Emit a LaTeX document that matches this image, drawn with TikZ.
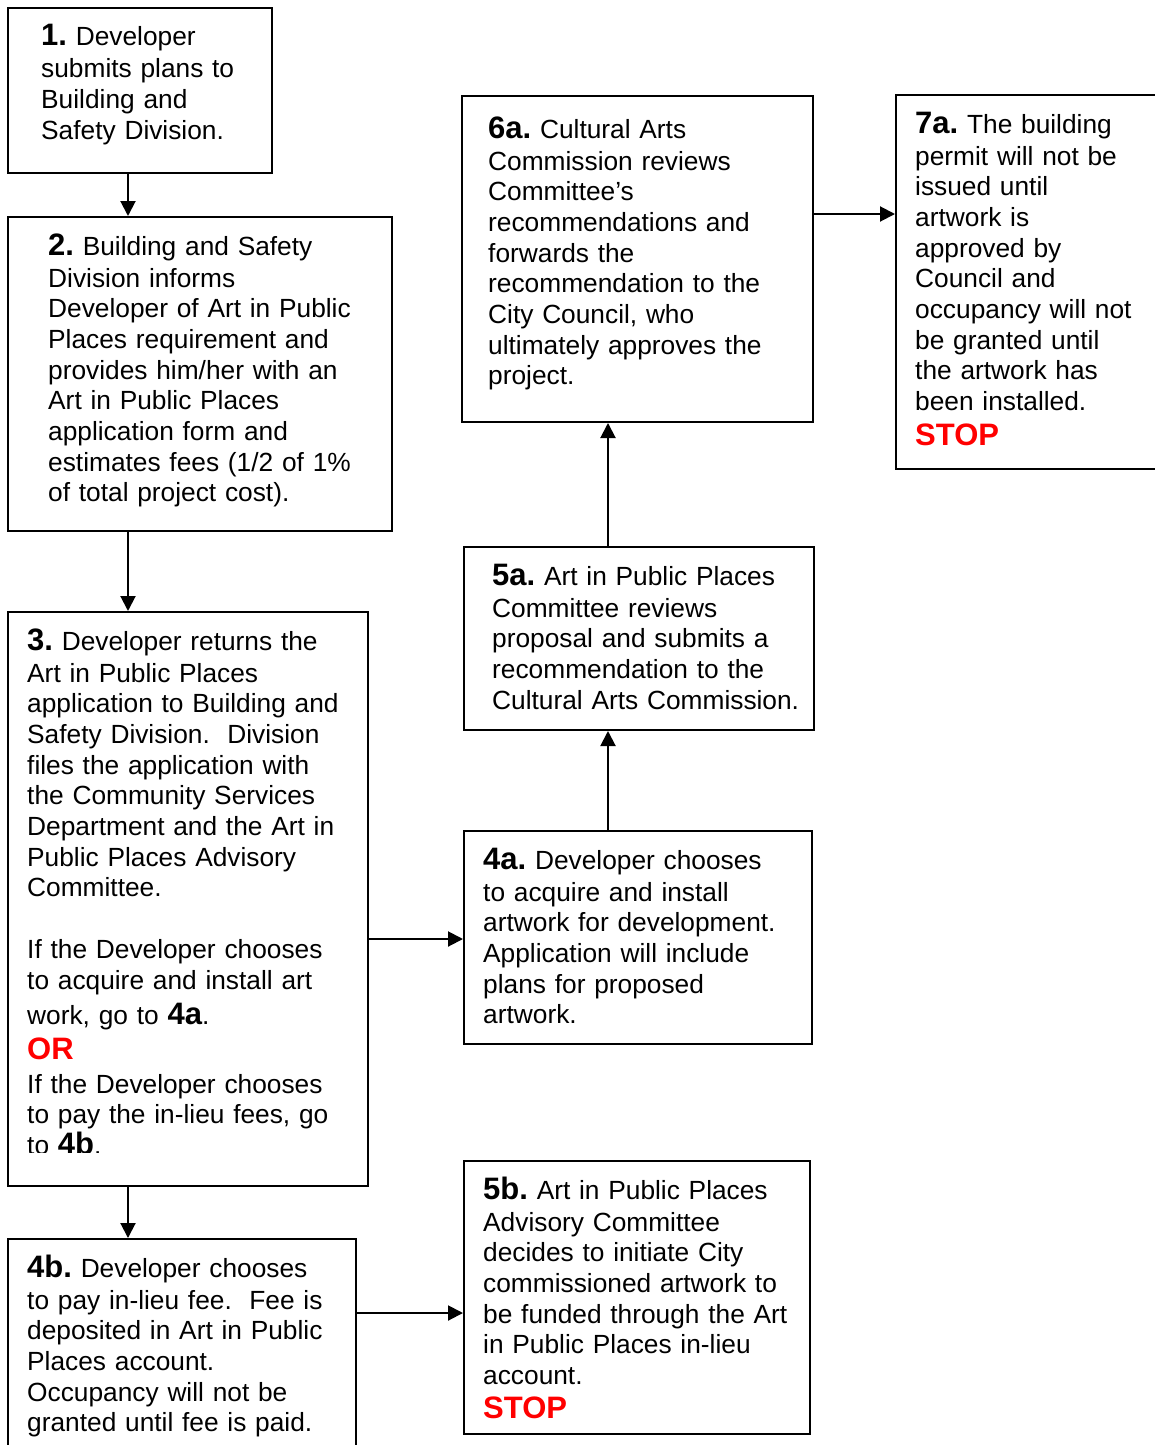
\documentclass[tikz,border=0pt]{standalone}
\usepackage{fontspec}
\setmainfont{Liberation Sans}
\usetikzlibrary{arrows.meta}
\definecolor{stopred}{RGB}{255,0,0}
\frenchspacing
\newcommand{\stepno}[1]{{\fontsize{31}{30.7}\selectfont\bfseries #1}}
\newcommand{\stopword}{{\fontsize{31}{30.7}\selectfont\bfseries\color{stopred}STOP}}
\newcommand{\orword}{{\fontsize{31}{30.7}\selectfont\bfseries\color{stopred}OR}}
\tikzset{
  box/.style={draw, line width=2pt, rectangle, inner sep=0pt, anchor=north west},
  txt/.style={anchor=base west, inner sep=0pt, text width=420pt, align=left,
    font=\fontsize{26.3}{30.7}\selectfont},
  arr/.style={line width=2pt, -{Triangle[length=15pt,width=15pt]}}
}
\begin{document}
\begin{tikzpicture}[x=1pt,y=-1pt]
  \useasboundingbox (0,0) rectangle (1154,1445);

  % Left column
  \node[box, minimum width=264pt, minimum height=165pt] (s1) at (7,7) {};
  \node[txt] (t1) at ([shift={(34,39)}]s1.north west) {\stepno{1.} Developer\\[1.3pt]
    submits plans to\\ Building and\\ Safety Division.};

  \node[box, minimum width=384pt, minimum height=314pt] (s2) at (7,216) {};
  \node[txt] (t2) at ([shift={(41,39)}]s2.north west) {\stepno{2.} Building and Safety\\[1.3pt]
    Division informs\\ Developer of Art in Public\\ Places requirement and\\
    provides him/her with an\\ Art in Public Places\\ application form and\\
    estimates fees (1/2 of 1\%\\ of total project cost).};

  \node[box, minimum width=360pt, minimum height=574pt] (s3) at (7,611) {};
  \begin{scope}
    \clip (0,600) rectangle (400,1152);
    \node[txt] (t3) at ([shift={(20,39)}]s3.north west) {\stepno{3.} Developer returns the\\[1.3pt]
      Art in Public Places\\ application to Building and\\ Safety Division.\ \ Division\\
      files the application with\\ the Community Services\\ Department and the Art in\\
      Public Places Advisory\\ Committee.\\[30.7pt]
      If the Developer chooses\\ to acquire and install art\\[4.3pt]
      work, go to \stepno{4a}.\\[4.3pt] \orword\\[3.3pt]
      If the Developer chooses\\ to pay the in-lieu fees, go\\ to \stepno{4b}.};
  \end{scope}

  \node[box, minimum width=348pt, minimum height=222pt] (s4b) at (7,1238) {};
  \node[txt] (t4b) at ([shift={(20,39)}]s4b.north west) {\stepno{4b.} Developer chooses\\[1.3pt]
    to pay in-lieu fee.\ \ Fee is\\ deposited in Art in Public\\ Places account.\\
    Occupancy will not be\\ granted until fee is paid.};

  % Middle column
  \node[box, minimum width=348pt, minimum height=213pt] (s4a) at (463,830) {};
  \node[txt] (t4a) at ([shift={(20,39)}]s4a.north west) {\stepno{4a.} Developer chooses\\[1.3pt]
    to acquire and install\\ artwork for development.\\ Application will include\\
    plans for proposed\\ artwork.};

  \node[box, minimum width=350pt, minimum height=183pt] (s5a) at (463,546) {};
  \node[txt] (t5a) at ([shift={(29,39)}]s5a.north west) {\stepno{5a.} Art in Public Places\\[1.3pt]
    Committee reviews\\ proposal and submits a\\ recommendation to the\\
    Cultural Arts Commission.};

  \node[box, minimum width=351pt, minimum height=326pt] (s6a) at (461,95) {};
  \node[txt] (t6a) at ([shift={(27,43)}]s6a.north west) {\stepno{6a.} Cultural Arts\\[1.3pt]
    Commission reviews\\ Committee’s\\ recommendations and\\ forwards the\\
    recommendation to the\\ City Council, who\\ ultimately approves the\\ project.};

  \node[box, minimum width=346pt, minimum height=273pt] (s5b) at (463,1160) {};
  \node[txt] (t5b) at ([shift={(20,39)}]s5b.north west) {\stepno{5b.} Art in Public Places\\[1.3pt]
    Advisory Committee\\ decides to initiate City\\ commissioned artwork to\\
    be funded through the Art\\ in Public Places in-lieu\\ account.\\[3.3pt] \stopword};

  % Right column
  \node[box, minimum width=280pt, minimum height=374pt] (s7a) at (895,94) {};
  \node[txt] (t7a) at ([shift={(20,39)}]s7a.north west) {\stepno{7a.} The building\\[1.3pt]
    permit will not be\\ issued until\\ artwork is\\ approved by\\ Council and\\
    occupancy will not\\ be granted until\\ the artwork has\\ been installed.\\[4.3pt] \stopword};

  % Arrows
  \draw[arr] ([xshift=-12pt]s1.south) -- ([xshift=-12pt]s1.south |- s2.north);
  \draw[arr] ([xshift=-72pt]s2.south) -- ([xshift=-72pt]s2.south |- s3.north);
  \draw[arr] ([xshift=-60pt]s3.south) -- ([xshift=-60pt]s3.south |- s4b.north);
  \draw[arr] ([yshift=-40pt]s3.east) -- ([yshift=-40pt]s3.east -| s4a.west);
  \draw[arr] ([xshift=-30pt]s4a.north) -- ([xshift=-30pt]s4a.north |- s5a.south);
  \draw[arr] ([xshift=-31pt]s5a.north) -- ([xshift=-31pt]s5a.north |- s6a.south);
  \draw[arr] ([yshift=45pt]s6a.east) -- ([yshift=45pt]s6a.east -| s7a.west);
  \draw[arr] ([yshift=37pt]s4b.east) -- ([yshift=37pt]s4b.east -| s5b.west);
\end{tikzpicture}
\end{document}
